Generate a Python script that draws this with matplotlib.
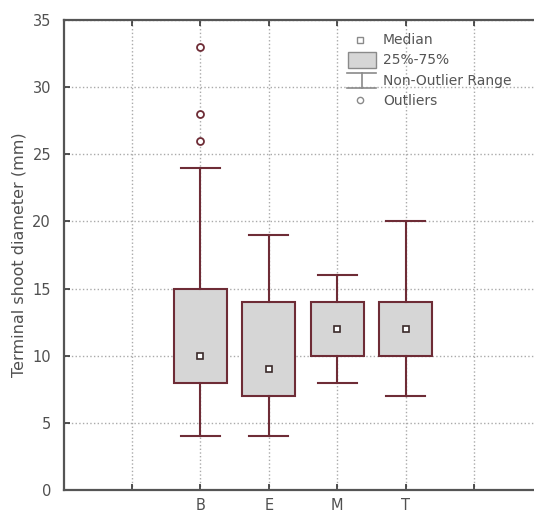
import matplotlib.pyplot as plt
from matplotlib.patches import Rectangle

groups = ["B", "E", "M", "T"]
whisk_lo = [4, 4, 8, 7]
q1 = [8, 7, 10, 10]
medians = [10, 9, 12, 12]
q3 = [15, 14, 14, 14]
whisk_hi = [24, 19, 16, 20]
outliers = [[26, 28, 33], [], [], []]

edge = "#6e2c36"
fill = "#d6d6d6"

fig = plt.figure(figsize=(5.34, 5.14), dpi=100)
ax = fig.add_axes([63.5 / 534, 24 / 514, 479 / 534, 470 / 514])

stats = []
for i, g in enumerate(groups):
    stats.append({"label": g, "whislo": whisk_lo[i], "q1": q1[i], "med": medians[i],
                  "q3": q3[i], "whishi": whisk_hi[i], "fliers": outliers[i]})

pos = list(range(1, len(groups) + 1))
ax.bxp(stats, positions=pos, widths=0.78, capwidths=0.57, patch_artist=True,
       boxprops=dict(facecolor=fill, edgecolor=edge, linewidth=1.5),
       whiskerprops=dict(color=edge, linewidth=1.5),
       capprops=dict(color=edge, linewidth=1.5),
       medianprops=dict(linestyle="none"),
       flierprops=dict(marker="o", markersize=5, markerfacecolor="white",
                       markeredgecolor=edge, markeredgewidth=1.3),
       zorder=3)
ax.plot(pos, medians, linestyle="none", marker="s", markersize=4.5,
        markerfacecolor="white", markeredgecolor="#3a2a2a", markeredgewidth=1.2, zorder=4)

ax.set_xlim(-1, 6)
ax.set_ylim(0, 35)
ax.set_xticks(range(0, 6))
ax.set_xticklabels([""] + groups + [""])
ax.set_yticks(range(0, 36, 5))
ax.tick_params(direction="in", length=4, width=1.2, colors="#333333", labelsize=10.5,
               top=True, labelcolor="#505050")
ax.tick_params(axis="x", pad=6)
ax.tick_params(axis="y", pad=9)
ax.grid(True, linestyle=":", color="#aaaaaa", linewidth=1)
ax.set_axisbelow(True)
for s in ax.spines.values():
    s.set_color("#555555")
    s.set_linewidth(1.6)
ax.set_ylabel("Terminal shoot diameter (mm)", fontsize=11.5, color="#505050", labelpad=4)

# legend drawn by hand
leg_col = "#8a8a8a"
ax.plot([3.33], [33.5], marker="s", markersize=4.5, markerfacecolor="white",
        markeredgecolor=leg_col, linestyle="none", zorder=5)
ax.add_patch(Rectangle((3.16, 31.4), 0.41, 1.2, facecolor=fill, edgecolor=leg_col, lw=1, zorder=5))
ax.plot([3.15, 3.57], [31.05, 31.05], color=leg_col, lw=1.2, zorder=5)
ax.plot([3.36, 3.36], [31.05, 29.93], color=leg_col, lw=1.2, zorder=5)
ax.plot([3.15, 3.57], [29.93, 29.93], color=leg_col, lw=1.2, zorder=5)
ax.plot([3.33], [29.04], marker="o", markersize=4.5, markerfacecolor="white",
        markeredgecolor=leg_col, linestyle="none", zorder=5)
labels = ["Median", "25%-75%", "Non-Outlier Range", "Outliers"]
ys = [33.5, 32.0, 30.45, 28.96]
for lab, yy in zip(labels, ys):
    ax.text(3.67, yy, lab, fontsize=10, color="#555555", va="center", zorder=5)

fig.savefig("out.png", dpi=100)
